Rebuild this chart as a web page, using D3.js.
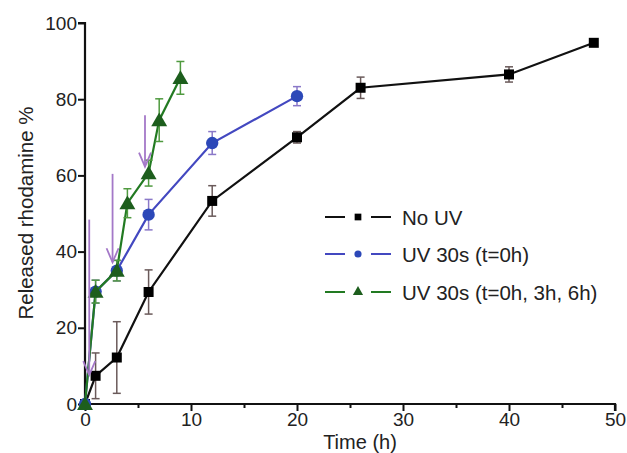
<!DOCTYPE html>
<html><head><meta charset="utf-8">
<script src="https://cdn.jsdelivr.net/npm/d3@7"></script>
<style>body{margin:0;background:#fff}svg{display:block;font-family:"Liberation Sans",Arial,sans-serif}</style>
</head><body><svg id="c" width="627" height="453"></svg>
<script>
const seriesNames = ["No UV", "UV 30s (t=0h)", "UV 30s (t=0h, 3h, 6h)"];
const noUvTime = [0, 1, 3, 6, 12, 20, 26, 40, 48];
const noUvValue = [0, 7.4, 12.2, 29.4, 53.3, 70, 83, 86.5, 94.8];
const noUvErr = [0, 6, 9.4, 5.8, 4, 1.5, 2.8, 2, 0];
const uv1Time = [0, 1, 3, 6, 12, 20];
const uv1Value = [0, 29.5, 35, 49.7, 68.5, 80.8];
const uv1Err = [0, 3, 2.7, 4, 3, 2.5];
const uv3Time = [0, 1, 3, 4, 6, 7, 9];
const uv3Value = [0, 29.5, 35, 52.7, 60.6, 74.5, 85.6];
const uv3Err = [0, 3, 2.7, 3.8, 3.4, 5.6, 4.3];
const arrowTime = [0.4, 2.6, 5.66];
const arrowFrom = [48.4, 60.4, 75.8];
const arrowTo = [7.6, 37.2, 62.3];
const xTicks = [0, 10, 20, 30, 40, 50];
const yTicks = [0, 20, 40, 60, 80, 100];

const svg = d3.select("#c");
const x = d3.scaleLinear().domain([0, 50]).range([85, 615]);
const y = d3.scaleLinear().domain([0, 100]).range([404, 23]);

const styles = [
  {line:"#111", marker:"#000", err:"#6a5a5a", shape:d3.symbolSquare, size:100, lsize:45},
  {line:"#4348c0", marker:"#2c48b8", err:"#8a78c8", shape:d3.symbolCircle, size:120, lsize:40},
  {line:"#227a22", marker:"#1d5e1d", err:"#4f9a3f", shape:d3.symbolTriangle, size:110, lsize:45}
];
const series = [
  {t:noUvTime, v:noUvValue, e:noUvErr},
  {t:uv1Time, v:uv1Value, e:uv1Err},
  {t:uv3Time, v:uv3Value, e:uv3Err}
];

// axes
const xAxis = svg.append("g").attr("transform","translate(0,404)")
  .call(d3.axisBottom(x).tickValues(xTicks).tickSize(7).tickPadding(2).tickFormat(d3.format("d")));
svg.append("g").attr("transform","translate(0,404)")
  .call(d3.axisBottom(x).tickValues([5,15,25,35,45]).tickSize(4).tickFormat(""))
  .call(g=>g.select(".domain").remove());
const yAxis = svg.append("g").attr("transform","translate(85,0)")
  .call(d3.axisLeft(y).tickValues(yTicks).tickSize(7).tickPadding(1).tickFormat(d3.format("d")));
svg.selectAll(".domain").attr("stroke","#111").attr("stroke-width",2.2);
svg.selectAll(".tick line").attr("stroke","#111").attr("stroke-width",2);
svg.selectAll(".tick text").attr("fill","#222").style("font-size","19px").style("font-family","Liberation Sans, Arial, sans-serif");
yAxis.selectAll(".domain").attr("d","M-7,"+y(100)+"H0V"+y(0));
xAxis.selectAll(".domain").attr("d","M"+x(0)+",0H"+x(50)+"V7");

svg.append("text").attr("x",360).attr("y",449).attr("text-anchor","middle")
  .attr("fill","#222").style("font-size","20px").text("Time (h)");
svg.append("text").attr("transform","translate(33,213) rotate(-90)").attr("text-anchor","middle")
  .attr("fill","#222").style("font-size","20.5px").text("Released rhodamine %");

// series
series.forEach((s,i)=>{
  const st = styles[i];
  const pts = s.t.map((t,j)=>({t, v:s.v[j], e:s.e[j]}));
  const g = svg.append("g");
  g.append("path").datum(pts).attr("fill","none").attr("stroke",st.line).attr("stroke-width",2.2)
    .attr("d", d3.line().x(d=>x(d.t)).y(d=>y(d.v)));
  const eb = g.selectAll(".eb").data(pts.filter(d=>d.e>0)).join("g").attr("stroke",st.err).attr("stroke-width",1.5);
  eb.append("line").attr("x1",d=>x(d.t)).attr("x2",d=>x(d.t)).attr("y1",d=>y(d.v+d.e)).attr("y2",d=>y(d.v-d.e));
  eb.append("line").attr("x1",d=>x(d.t)-4).attr("x2",d=>x(d.t)+4).attr("y1",d=>y(d.v+d.e)).attr("y2",d=>y(d.v+d.e));
  eb.append("line").attr("x1",d=>x(d.t)-4).attr("x2",d=>x(d.t)+4).attr("y1",d=>y(d.v-d.e)).attr("y2",d=>y(d.v-d.e));
  g.selectAll(".m").data(pts).join("path")
    .attr("transform",d=>`translate(${x(d.t)},${y(d.v) + (i===2?1.5:0)})`)
    .attr("d", d3.symbol().type(st.shape).size(st.size)).attr("fill",st.marker);
});

// arrows
const ag = svg.append("g").attr("stroke","#a478c8").attr("stroke-width",1.8).attr("fill","none");
arrowTime.forEach((t,i)=>{
  const ax = x(t), y0 = y(arrowFrom[i]), y1 = y(arrowTo[i]);
  ag.append("line").attr("x1",ax).attr("x2",ax).attr("y1",y0).attr("y2",y1);
  ag.append("path").attr("d",`M${ax-6},${y1-14}L${ax},${y1}L${ax+6},${y1-14}`);
});

// legend
const legY = [217, 254, 292];
seriesNames.forEach((name,i)=>{
  const st = styles[i];
  const g = svg.append("g");
  g.append("line").attr("x1",325).attr("x2",345).attr("y1",legY[i]).attr("y2",legY[i]).attr("stroke",st.line).attr("stroke-width",2);
  g.append("line").attr("x1",371).attr("x2",391).attr("y1",legY[i]).attr("y2",legY[i]).attr("stroke",st.line).attr("stroke-width",2);
  g.append("path").attr("transform",`translate(358,${legY[i]})`).attr("d",d3.symbol().type(st.shape).size(st.lsize)).attr("fill",st.marker);
  g.append("text").attr("x",402).attr("y",legY[i]+7.5).attr("fill","#222").style("font-size","20.5px").text(name);
});
</script></body></html>
